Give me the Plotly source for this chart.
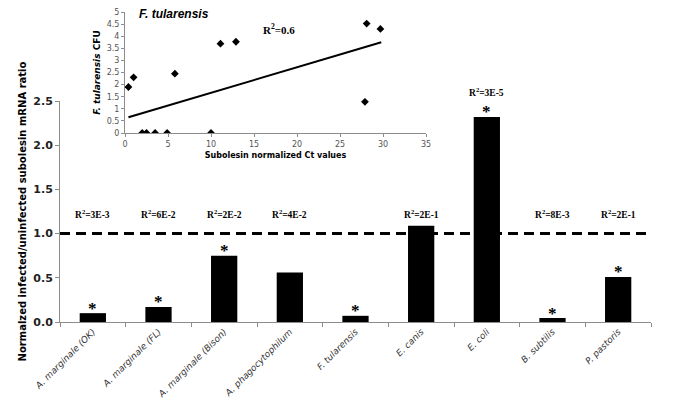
import plotly.graph_objects as go

# ---- main bar chart data ----
categories = ["A. marginale (OK)", "A. marginale (FL)", "A. marginale (Bison)",
              "A. phagocytophilum", "F. tularensis", "E. canis", "E. coli",
              "B. subtilis", "P. pastoris"]
ratios = [0.10, 0.17, 0.75, 0.56, 0.07, 1.09, 2.32, 0.045, 0.51]
r2_labels = ["3E-3", "6E-2", "2E-2", "4E-2", "", "2E-1", "3E-5", "8E-3", "2E-1"]
significant = [True, True, True, False, True, False, True, True, True]
reference_level = 1.0

# ---- inset scatter data (F. tularensis) ----
ct_values = [0.4, 1.0, 2.0, 2.5, 3.5, 4.9, 5.8, 10.0, 11.1, 12.9, 27.9, 28.1, 29.7]
cfu_values = [1.9, 2.3, 0, 0, 0, 0, 2.45, 0, 3.69, 3.77, 1.29, 4.52, 4.30]
trend_x = [0.4, 29.8]
trend_y = [0.65, 3.75]
inset_r2 = "0.6"

W, H = 685, 404
ml, mr, mt, mb = 60, 34, 5, 82
ph = H - mt - mb
pw = W - ml - mr

def ypx(p):
    return (H - mb - p) / ph

def xpx(p):
    return (p - ml) / pw

fig = go.Figure()

fig.add_trace(go.Bar(
    x=categories, y=ratios, marker=dict(color="black", line=dict(width=0)),
    width=0.4, xaxis="x", yaxis="y", showlegend=False, hoverinfo="x+y"))

fig.add_trace(go.Scatter(
    x=ct_values, y=cfu_values, mode="markers",
    marker=dict(symbol="diamond", size=6, color="black"),
    xaxis="x2", yaxis="y2", showlegend=False))
fig.add_trace(go.Scatter(
    x=trend_x, y=trend_y, mode="lines", line=dict(color="black", width=2),
    xaxis="x2", yaxis="y2", showlegend=False))

annotations = []
r2_font = dict(family="Liberation Serif", size=9.5, color="black")
for c, v, r, s in zip(categories, ratios, r2_labels, significant):
    if r:
        if v < 1.15:
            annotations.append(dict(x=c, y=1.22, xref="x", yref="y",
                                    text="<b>R<sup>2</sup>=" + r + "</b>",
                                    showarrow=False, font=r2_font, yanchor="middle"))
        else:
            annotations.append(dict(x=c, y=v, xref="x", yref="y",
                                    text="<b>R<sup>2</sup>=" + r + "</b>",
                                    showarrow=False, font=r2_font, yanchor="middle",
                                    yshift=25))
    if s:
        annotations.append(dict(x=c, y=v, xref="x", yref="y", text="<b>*</b>",
                                showarrow=False, yanchor="middle", yshift=5,
                                font=dict(family="Liberation Serif", size=17, color="black")))

annotations.append(dict(x=xpx(137), y=ypx(14), xref="paper", yref="paper",
                        text="<b><i>F. tularensis</i></b>", showarrow=False,
                        xanchor="left", yanchor="middle",
                        font=dict(family="Liberation Sans", size=12, color="black")))
annotations.append(dict(x=xpx(279), y=ypx(29), xref="paper", yref="paper",
                        text="<b>R<sup>2</sup>=" + inset_r2 + "</b>", showarrow=False,
                        xanchor="center", yanchor="middle",
                        font=dict(family="Liberation Serif", size=11, color="black")))

shapes = [dict(type="line", xref="x domain", yref="y", x0=0, x1=1,
               y0=reference_level, y1=reference_level,
               line=dict(color="black", width=3, dash="10px,6px"))]

axis_gray = "#8c8c8c"
fig.update_layout(
    width=W, height=H, margin=dict(l=ml, r=mr, t=mt, b=mb),
    plot_bgcolor="white", paper_bgcolor="white",
    showlegend=False, bargap=0.6,
    annotations=annotations, shapes=shapes,
    xaxis=dict(domain=[0, 1], type="category", range=[-0.5, 8.5],
               showline=True, linecolor=axis_gray, linewidth=1,
               ticks="outside", tickson="boundaries", ticklen=4, tickcolor=axis_gray,
               tickangle=-45, showgrid=False, zeroline=False, automargin=False,
               tickfont=dict(family="DejaVu Sans", size=9, color="#333333"),
               tickvals=categories,
               ticktext=["<i>" + c + "</i>" for c in categories],
               anchor="y"),
    yaxis=dict(domain=[0, ypx(101)], range=[0, 2.5], dtick=0.5, tickformat=".1f",
               showline=True, linecolor=axis_gray, linewidth=1,
               ticks="outside", ticklen=4, tickcolor=axis_gray,
               showgrid=False, zeroline=False, automargin=False,
               tickfont=dict(family="DejaVu Sans", size=11, color="#222222", weight="bold"),
               title=dict(text="<b>Normalzed infected/uninfected subolesin mRNA ratio</b>",
                          font=dict(family="DejaVu Sans", size=10, color="black"),
                          standoff=4),
               anchor="x"),
    xaxis2=dict(domain=[xpx(125), xpx(426)], range=[0, 35], dtick=5,
                showline=True, linecolor=axis_gray, linewidth=1,
                ticks="outside", ticklen=3, tickcolor=axis_gray,
                showgrid=False, zeroline=False, automargin=False,
                tickfont=dict(family="DejaVu Sans", size=8, color="#555555"),
                title=dict(text="<b>Subolesin normalized Ct values</b>",
                           font=dict(family="DejaVu Sans", size=8, color="black"),
                           standoff=4),
                anchor="y2"),
    yaxis2=dict(domain=[ypx(133), ypx(12)], range=[0, 5], dtick=0.5,
                showline=True, linecolor=axis_gray, linewidth=1,
                ticks="outside", ticklen=3, tickcolor=axis_gray,
                showgrid=False, zeroline=False, automargin=False,
                tickfont=dict(family="DejaVu Sans", size=8, color="#555555"),
                title=dict(text="<b><i>F. tularensis</i> CFU</b>",
                           font=dict(family="DejaVu Sans", size=9, color="black"),
                           standoff=4),
                anchor="x2"),
)

fig.write_html("out.html", config={"displayModeBar": False},
               post_script="document.body.style.margin='0';document.body.style.overflow='hidden';")
